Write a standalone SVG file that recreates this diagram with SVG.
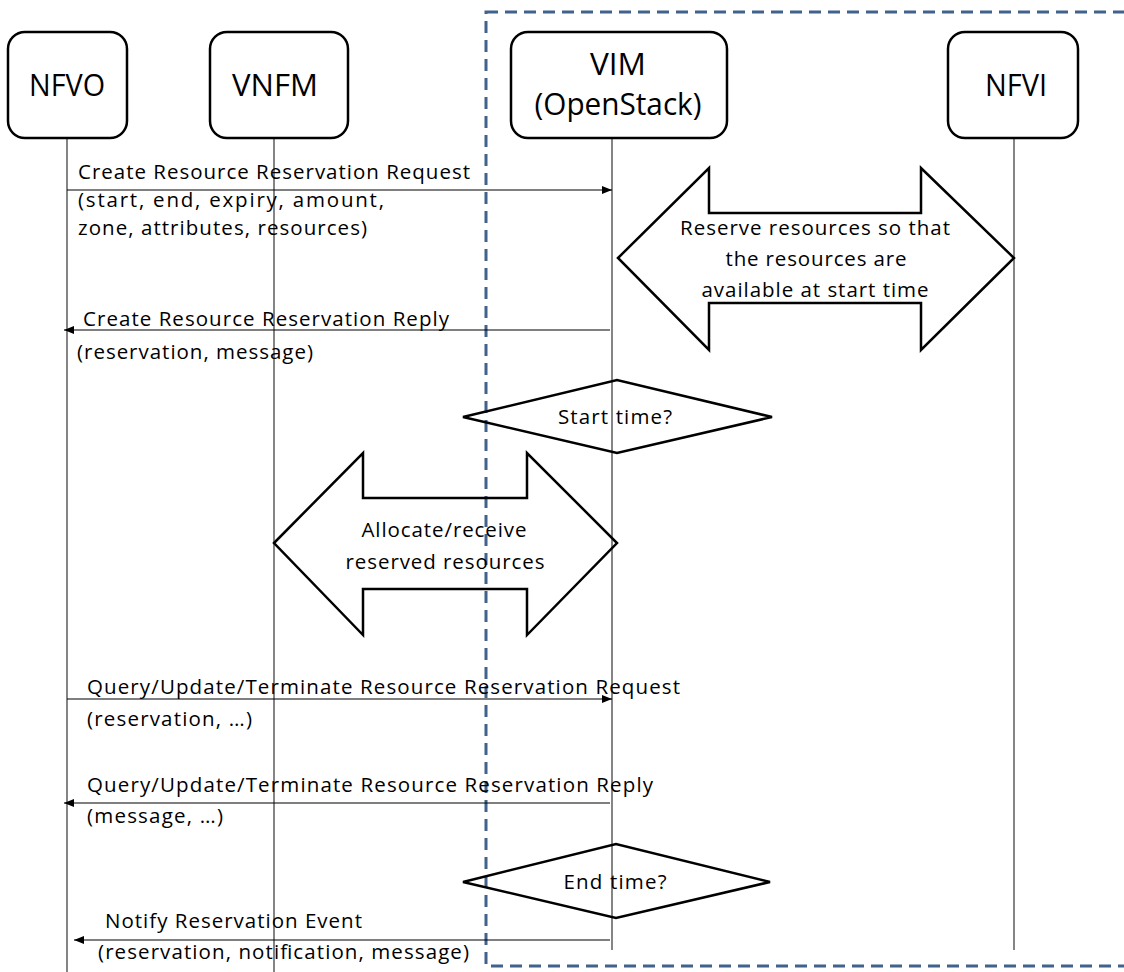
<svg xmlns="http://www.w3.org/2000/svg" width="1124" height="972" viewBox="0 0 1124 972">
<style>
.node{fill:#fff;stroke:#000;stroke-width:2.5}
.ntext{font-family:"Open Sans","Liberation Sans",sans-serif;font-size:31px;fill:#000;text-anchor:middle}
.life{stroke:#333;stroke-width:1.2}
.msg{stroke:#000;stroke-width:1.2;fill:none}
.lbl{font-family:"Open Sans","Liberation Sans",sans-serif;font-size:20.5px;fill:#000}
.shape{fill:none;stroke:#000;stroke-width:2.5;stroke-linejoin:miter}
.ctr{text-anchor:middle}
.frame{fill:none;stroke:#41628c;stroke-width:3;stroke-dasharray:12 7}
</style>
<defs>
<marker id="ah" viewBox="0 0 10 8" refX="10" refY="4" markerWidth="10" markerHeight="8" markerUnits="userSpaceOnUse" orient="auto">
<path d="M0,0 L10,4 L0,8 z" fill="#000"/>
</marker>
</defs>
<rect width="1124" height="972" fill="#fff"/>
<rect class="frame" x="486" y="12" width="700" height="954"/>
<g id="lifelines">
<line class="life" x1="67" y1="138" x2="67" y2="972"/>
<line class="life" x1="274" y1="138" x2="274" y2="972"/>
<line class="life" x1="612" y1="138" x2="612" y2="950"/>
<line class="life" x1="1014" y1="138" x2="1014" y2="950"/>
</g>
<g id="NFVO"><rect class="node" x="8" y="32" width="119" height="106" rx="17"/><text class="ntext" x="67" y="96" textLength="76" lengthAdjust="spacingAndGlyphs">NFVO</text></g>
<g id="VNFM"><rect class="node" x="210" y="32" width="138" height="106" rx="17"/><text class="ntext" x="275" y="96" textLength="86" lengthAdjust="spacingAndGlyphs">VNFM</text></g>
<g id="VIM"><rect class="node" x="511" y="32" width="216" height="106" rx="17"/><text class="ntext" x="618" y="75" textLength="56" lengthAdjust="spacingAndGlyphs">VIM</text><text class="ntext" x="618" y="115" textLength="167" lengthAdjust="spacingAndGlyphs">(OpenStack)</text></g>
<g id="NFVI"><rect class="node" x="948" y="32" width="130" height="106" rx="17"/><text class="ntext" x="1016" y="96" textLength="62" lengthAdjust="spacingAndGlyphs">NFVI</text></g>
<g id="connectors">
<line class="msg" x1="67" y1="190" x2="612" y2="190" marker-end="url(#ah)"/>
<line class="msg" x1="610" y1="330" x2="64" y2="330" marker-end="url(#ah)"/>
<line class="msg" x1="67" y1="699" x2="612" y2="699" marker-end="url(#ah)"/>
<line class="msg" x1="610" y1="803" x2="64" y2="803" marker-end="url(#ah)"/>
<line class="msg" x1="610" y1="940" x2="74" y2="940" marker-end="url(#ah)"/>
</g>
<g id="labels">
<text class="lbl" x="78" y="179" textLength="392" lengthAdjust="spacing">Create Resource Reservation Request</text>
<text class="lbl" x="78" y="207" textLength="306" lengthAdjust="spacing">(start, end, expiry, amount,</text>
<text class="lbl" x="78" y="235" textLength="289" lengthAdjust="spacing">zone, attributes, resources)</text>
<text class="lbl" x="83" y="326" textLength="366" lengthAdjust="spacing">Create Resource Reservation Reply</text>
<text class="lbl" x="77" y="359" textLength="236" lengthAdjust="spacing">(reservation, message)</text>
<text class="lbl" x="87" y="694" textLength="593" lengthAdjust="spacing">Query/Update/Terminate Resource Reservation Request</text>
<text class="lbl" x="87" y="726" textLength="165" lengthAdjust="spacing">(reservation, …)</text>
<text class="lbl" x="87" y="792" textLength="566" lengthAdjust="spacing">Query/Update/Terminate Resource Reservation Reply</text>
<text class="lbl" x="87" y="823" textLength="136" lengthAdjust="spacing">(message, …)</text>
<text class="lbl" x="105" y="928" textLength="257" lengthAdjust="spacing">Notify Reservation Event</text>
<text class="lbl" x="98" y="959" textLength="371" lengthAdjust="spacing">(reservation, notification, message)</text>
</g>
<g id="reserve">
<polygon class="shape" points="618,258 709,168 709,213 921,213 921,168 1014,258 921,350 921,303 709,303 709,350"/>
<text class="lbl ctr" x="815" y="235" textLength="270" lengthAdjust="spacing">Reserve resources so that</text>
<text class="lbl ctr" x="816" y="266" textLength="181" lengthAdjust="spacing">the resources are</text>
<text class="lbl ctr" x="815" y="297" textLength="227" lengthAdjust="spacing">available at start time</text>
</g>
<g id="start-time">
<polygon class="shape" points="463,417 617,380 772,417 617,453"/>
<text class="lbl ctr" x="615" y="424" textLength="114" lengthAdjust="spacing">Start time?</text>
</g>
<g id="allocate">
<polygon class="shape" points="274,543 363,453 363,498 527,498 527,453 617,543 527,635 527,589 363,589 363,635"/>
<text class="lbl ctr" x="444" y="537" textLength="165" lengthAdjust="spacing">Allocate/receive</text>
<text class="lbl ctr" x="445" y="569" textLength="199" lengthAdjust="spacing">reserved resources</text>
</g>
<g id="end-time">
<polygon class="shape" points="463,882 616,844 770,882 616,918"/>
<text class="lbl ctr" x="615" y="889" textLength="103" lengthAdjust="spacing">End time?</text>
</g>
</svg>
